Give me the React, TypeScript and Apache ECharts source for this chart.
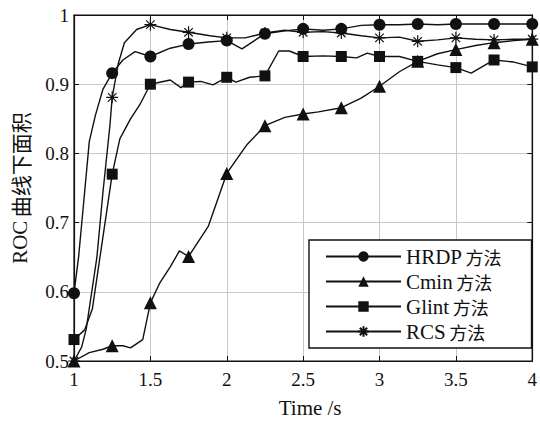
import React, { useEffect, useRef } from "react";
import * as echarts from "echarts";

const xTicks = [1, 1.5, 2, 2.5, 3, 3.5, 4];
const yTicks = [0.5, 0.6, 0.7, 0.8, 0.9, 1];

const seriesNames = ["HRDP 方法", "Cmin 方法", "Glint 方法", "RCS 方法"];

const hrdp: number[][] = [
  [1, 0.598], [1.03, 0.65], [1.07, 0.745], [1.1, 0.817], [1.14, 0.855], [1.19, 0.893], [1.25, 0.916],
  [1.32, 0.935], [1.4, 0.947], [1.5, 0.94], [1.63, 0.952], [1.75, 0.958], [1.88, 0.961], [2, 0.963],
  [2.1, 0.951], [2.25, 0.973], [2.38, 0.977], [2.5, 0.98], [2.63, 0.978], [2.75, 0.98], [2.88, 0.985],
  [3, 0.986], [3.13, 0.986], [3.25, 0.987], [3.38, 0.986], [3.5, 0.987], [3.63, 0.987], [3.75, 0.987],
  [3.88, 0.987], [4, 0.987],
];

const cmin: number[][] = [
  [1, 0.5], [1.1, 0.512], [1.19, 0.517], [1.25, 0.522], [1.32, 0.522], [1.37, 0.519], [1.45, 0.531],
  [1.5, 0.584], [1.56, 0.612], [1.63, 0.636], [1.69, 0.659], [1.75, 0.651], [1.88, 0.695], [2, 0.771],
  [2.13, 0.812], [2.25, 0.84], [2.38, 0.852], [2.5, 0.857], [2.6, 0.86], [2.75, 0.866], [2.88, 0.88],
  [3, 0.897], [3.13, 0.918], [3.25, 0.933], [3.38, 0.944], [3.5, 0.95], [3.63, 0.956], [3.75, 0.96],
  [3.88, 0.963], [4, 0.965],
];

const glint: number[][] = [
  [1, 0.531], [1.07, 0.545], [1.12, 0.575], [1.17, 0.65], [1.25, 0.77], [1.3, 0.821], [1.37, 0.85],
  [1.43, 0.87], [1.5, 0.9], [1.63, 0.906], [1.7, 0.895], [1.75, 0.903], [1.83, 0.904], [1.91, 0.899],
  [2, 0.91], [2.06, 0.903], [2.15, 0.91], [2.25, 0.912], [2.34, 0.948], [2.41, 0.948], [2.5, 0.94],
  [2.63, 0.941], [2.75, 0.94], [2.85, 0.938], [2.92, 0.945], [3, 0.94], [3.13, 0.94], [3.25, 0.933],
  [3.38, 0.928], [3.5, 0.924], [3.6, 0.916], [3.75, 0.935], [3.88, 0.932], [4, 0.925],
];

const rcs: number[][] = [
  [1, 0.5], [1.05, 0.52], [1.08, 0.546], [1.15, 0.65], [1.19, 0.745], [1.235, 0.84], [1.25, 0.881],
  [1.29, 0.93], [1.33, 0.96], [1.41, 0.979], [1.5, 0.986], [1.63, 0.979], [1.75, 0.975], [1.89, 0.97],
  [2, 0.967], [2.12, 0.967], [2.25, 0.974], [2.38, 0.978], [2.5, 0.975], [2.63, 0.976], [2.75, 0.974],
  [2.88, 0.97], [3, 0.967], [3.13, 0.968], [3.25, 0.962], [3.38, 0.964], [3.5, 0.967], [3.63, 0.965],
  [3.75, 0.964], [3.88, 0.965], [4, 0.965],
];

const asteriskPath =
  "path://M0,-10L0,10M-10,0L10,0M-7.07,-7.07L7.07,7.07M-7.07,7.07L7.07,-7.07";

const SERIF = "'Liberation Serif', 'Times New Roman', serif";
const CJK = "'Noto Sans CJK SC', sans-serif";

function toData(pts: number[][]) {
  return pts.map(([t, v]) => {
    const isMarker = Math.abs(t * 4 - Math.round(t * 4)) < 1e-6;
    return isMarker ? { value: [t, v] } : { value: [t, v], symbol: "none" };
  });
}

function splitRich(s: string) {
  const i = s.indexOf(" ");
  return `{a|${s.slice(0, i)}}{s| }{b|${s.slice(i + 1)}}`;
}

export default function App() {
  const ref = useRef<HTMLDivElement>(null);
  useEffect(() => {
    if (!ref.current) return;
    const chart = echarts.init(ref.current, undefined, { renderer: "svg" });
    const mk = (name: string, pts: number[][], symbol: string, size: number, extra: any = {}) => ({
      type: "line",
      name,
      data: toData(pts),
      symbol,
      symbolSize: size,
      showSymbol: true,
      lineStyle: { color: "#111", width: 1.4 },
      itemStyle: { color: "#111", ...extra },
      emphasis: { disabled: true },
      z: 3,
    });
    chart.setOption({
      animation: false,
      backgroundColor: "#fff",
      grid: {
        left: 74, right: 6, top: 15, bottom: 58,
        show: true, borderColor: "#111", borderWidth: 1.2, backgroundColor: "transparent",
      },
      legend: {
        orient: "vertical",
        left: 309,
        top: 240,
        itemWidth: 75,
        itemHeight: 13,
        itemGap: 4,
        padding: [6, 30, 6, 16],
        borderColor: "#111",
        borderWidth: 1.4,
        backgroundColor: "#fff",
        formatter: (n: string) => splitRich(n),
        textStyle: {
          color: "#111",
          rich: {
            a: { fontFamily: SERIF, fontSize: 21, lineHeight: 22, color: "#111" },
            s: { fontFamily: SERIF, fontSize: 14, lineHeight: 22 },
            b: { fontFamily: CJK, fontSize: 18, lineHeight: 22, color: "#111" },
          },
        },
        data: seriesNames,
      },
      xAxis: [
        {
          type: "value",
          min: 1,
          max: 4,
          interval: 0.5,
          name: "Time /s",
          nameLocation: "middle",
          nameGap: 36,
          nameTextStyle: { fontFamily: SERIF, fontSize: 21, color: "#111", padding: [0, 0, 0, 14] },
          axisLine: { lineStyle: { color: "#111", width: 1.2 } },
          axisTick: { inside: true, length: 5, lineStyle: { color: "#111" } },
          axisLabel: {
            fontFamily: SERIF, fontSize: 19, color: "#111", margin: 9,
            formatter: (v: number) => String(v),
          },
          splitLine: { show: true, lineStyle: { color: "#c8c8c8", width: 1 } },
          data: xTicks,
        },
        {
          type: "value", position: "top", min: 1, max: 4, interval: 0.5,
          axisLine: { show: true, lineStyle: { color: "#111", width: 1.2 } },
          axisTick: { inside: true, length: 5, lineStyle: { color: "#111" } },
          axisLabel: { show: false }, splitLine: { show: false },
        },
      ],
      yAxis: [
        {
          type: "value",
          min: 0.5,
          max: 1,
          interval: 0.1,
          name: "{a|ROC}{s| }{b|曲线下面积}",
          nameLocation: "middle",
          nameGap: 44,
          nameTextStyle: {
            color: "#111",
            rich: {
              a: { fontFamily: SERIF, fontSize: 21, color: "#111" },
              s: { fontFamily: SERIF, fontSize: 14 },
              b: { fontFamily: CJK, fontSize: 21, color: "#111" },
            },
          },
          axisLine: { show: true, lineStyle: { color: "#111", width: 1.2 } },
          axisTick: { show: true, inside: true, length: 5, lineStyle: { color: "#111" } },
          axisLabel: {
            fontFamily: SERIF, fontSize: 19, color: "#111", margin: 5,
            formatter: (v: number) => (Math.abs(v - 1) < 1e-9 ? "1" : v.toFixed(1)),
          },
          splitLine: { show: true, lineStyle: { color: "#c8c8c8", width: 1 } },
          data: yTicks,
        },
        {
          type: "value", position: "right", min: 0.5, max: 1, interval: 0.1,
          axisLine: { show: true, lineStyle: { color: "#111", width: 1.2 } },
          axisTick: { show: true, inside: true, length: 5, lineStyle: { color: "#111" } },
          axisLabel: { show: false }, splitLine: { show: false },
        },
      ],
      series: [
        mk(seriesNames[0], hrdp, "circle", 12),
        mk(seriesNames[1], cmin, "triangle", 13),
        mk(seriesNames[2], glint, "rect", 11),
        mk(seriesNames[3], rcs, asteriskPath, 12, { borderColor: "#111", borderWidth: 1.2 }),
      ],
    });
    return () => chart.dispose();
  }, []);
  return <div ref={ref} style={{ width: 540, height: 423, position: "absolute", left: 0, top: 0 }} />;
}
